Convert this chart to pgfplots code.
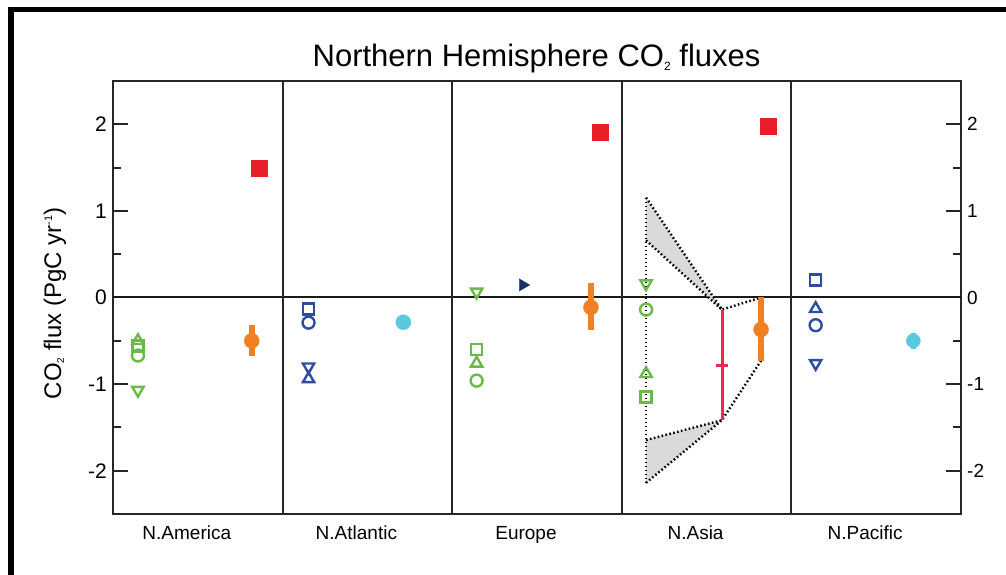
\documentclass[border=0pt]{standalone}
\usepackage{pgfplots}
\pgfplotsset{compat=1.18}
\usepackage{fontspec}
\setmainfont{Liberation Sans}
\definecolor{cgreen}{RGB}{106,187,70}
\definecolor{cblue}{RGB}{46,76,160}
\definecolor{corange}{RGB}{242,128,32}
\definecolor{cred}{RGB}{232,30,40}
\definecolor{ccyan}{RGB}{90,200,222}
\definecolor{cpink}{RGB}{240,40,80}
\definecolor{cnavy}{RGB}{20,50,100}
\definecolor{cshade}{RGB}{218,218,218}
\begin{document}
\begin{tikzpicture}[x=1pt,y=1pt]
\path[use as bounding box] (0,0) rectangle (1006,575);
\fill[black] (8,0) rectangle (14,568);
\fill[black] (8,563) rectangle (1006,568);
\node[anchor=base, font=\fontsize{31}{31}\selectfont] at (536.5,508) {Northern Hemisphere CO\raisebox{-4pt}{\fontsize{12}{12}\selectfont 2} fluxes};
\node[rotate=90, font=\fontsize{24}{24}\selectfont] at (55,271.5) {CO\raisebox{-3pt}{\fontsize{10}{10}\selectfont 2} flux (PgC yr\raisebox{9pt}{\fontsize{11}{11}\selectfont -1})};
\begin{axis}[
 at={(113pt,61pt)}, anchor=south west, scale only axis, width=848pt, height=433pt,
 xmin=0,xmax=5,ymin=-2.5,ymax=2.5,
 xtick={0.435,1.435,2.435,3.435,4.435},
 xticklabels={N.America,N.Atlantic,Europe,N.Asia,N.Pacific},
 xtick style={draw=none},
 xticklabel style={font=\fontsize{19}{19}\selectfont, inner sep=0pt},
 xticklabel shift=12pt,
 ytick={-2,-1,0,1,2}, yticklabels={-2,-1,0,1,2},
 minor ytick={-1.5,-0.5,0.5,1.5},
 ytick pos=both, yticklabel pos=left,
 tick align=inside, major tick length=15pt, minor tick length=8pt,
 yticklabel style={font=\fontsize{21}{21}\selectfont, inner sep=0pt},
 yticklabel shift=6pt,
 axis line style={line width=2pt, black!85},
 every tick/.append style={line width=2pt, black!85},
 clip=false,
 dotline/.style={black, line width=2.4pt, dash pattern=on 1.6pt off 2.4pt},
 gmark/.style={cgreen, only marks},
 bmark/.style={cblue, only marks},
]
% zero line and panel dividers
\addplot[black!90, line width=2pt] coordinates {(0,0) (5,0)};
\addplot[black!85, line width=2pt] coordinates {(1,-2.5) (1,2.5)};
\addplot[black!85, line width=2pt] coordinates {(2,-2.5) (2,2.5)};
\addplot[black!85, line width=2pt] coordinates {(3,-2.5) (3,2.5)};
\addplot[black!85, line width=2pt] coordinates {(4,-2.5) (4,2.5)};
% shaded ranges (N.Asia)
\addplot[fill=cshade, draw=none] coordinates {(3.143,1.154) (3.143,0.66) (3.59,-0.14)} -- cycle;
\addplot[fill=cshade, draw=none] coordinates {(3.143,-1.646) (3.143,-2.14) (3.59,-1.417)} -- cycle;
\addplot[dotline] coordinates {(3.143,1.154) (3.143,-2.16)};
\addplot[dotline] coordinates {(3.143,1.154) (3.59,-0.14) (3.821,0)};
\addplot[dotline] coordinates {(3.143,0.66) (3.59,-0.14)};
\addplot[dotline] coordinates {(3.143,-2.14) (3.59,-1.417) (3.821,-0.73)};
\addplot[dotline] coordinates {(3.143,-1.646) (3.59,-1.417)};
% pink range
\addplot[cpink, line width=3.2pt] coordinates {(3.593,-0.14) (3.593,-1.417)};
\addplot[cpink, line width=3pt] coordinates {(3.558,-0.78) (3.628,-0.78)};
% green open markers
\addplot[gmark, mark=square, mark size=5.5pt, mark options={line width=2.4pt, solid}] coordinates {(0.147,-0.56) (2.144,-0.60) (3.143,-1.15)};
\addplot[gmark, mark=o, mark size=6pt, mark options={line width=2.4pt, solid}] coordinates {(0.147,-0.67) (2.144,-0.96) (3.143,-0.14)};
\addplot[gmark, mark=triangle, mark size=6.5pt, mark options={line width=2.4pt, solid}] coordinates {(0.147,-0.50) (2.144,-0.76) (3.143,-0.88)};
\addplot[gmark, mark=triangle, mark size=6.5pt, mark options={line width=2.4pt, solid, rotate=180}] coordinates {(0.147,-1.07) (2.144,0.065) (3.143,0.16)};
% blue open markers
\addplot[bmark, mark=square, mark size=5.5pt, mark options={line width=2.4pt, solid}] coordinates {(1.153,-0.135) (4.143,0.2)};
\addplot[bmark, mark=o, mark size=6pt, mark options={line width=2.4pt, solid}] coordinates {(1.153,-0.29) (4.143,-0.32)};
\addplot[bmark, mark=triangle, mark size=6.5pt, mark options={line width=2.4pt, solid}] coordinates {(1.153,-0.94) (4.143,-0.13)};
\addplot[bmark, mark=triangle, mark size=6.5pt, mark options={line width=2.4pt, solid, rotate=180}] coordinates {(1.153,-0.80) (4.143,-0.76)};
% navy arrow
\addplot[cnavy, only marks, mark=triangle*, mark size=7pt, mark options={rotate=-90}] coordinates {(2.416,0.145)};
% orange with ranges
\addplot[corange, only marks, mark=*, mark size=7.5pt,
  error bars/.cd, y dir=both, y explicit, error mark=none,
  error bar style={line width=6pt, corange}]
  coordinates {(0.818,-0.50) += (0,0.18) -= (0,0.17)
               (2.818,-0.114) += (0,0.284) -= (0,0.263)
               (3.821,-0.37) += (0,0.37) -= (0,0.36)};
% cyan
\addplot[ccyan, only marks, mark=*, mark size=7.5pt] coordinates {(1.712,-0.286)};
\addplot[ccyan, only marks, mark=*, mark size=7pt,
  error bars/.cd, y dir=both, y explicit, error mark=none,
  error bar style={line width=5pt, ccyan}]
  coordinates {(4.719,-0.50) +- (0,0.09)};
% red squares
\addplot[cred, only marks, mark=square*, mark size=8pt] coordinates {(0.861,1.49) (2.871,1.906) (3.862,1.98)};
\end{axis}
\begin{axis}[
 at={(113pt,61pt)}, anchor=south west, scale only axis, width=848pt, height=433pt,
 xmin=0,xmax=5,ymin=-2.5,ymax=2.5,
 axis line style={draw=none}, xtick=\empty,
 ytick={-2,-1,0,1,2}, yticklabels={-2,-1,0,1,2},
 ytick pos=right, yticklabel pos=right, major tick length=0pt,
 yticklabel style={font=\fontsize{19}{19}\selectfont, inner sep=0pt},
 yticklabel shift=6pt,
]
\addplot[draw=none] coordinates {(0,0)};
\end{axis}
\end{tikzpicture}
\end{document}
